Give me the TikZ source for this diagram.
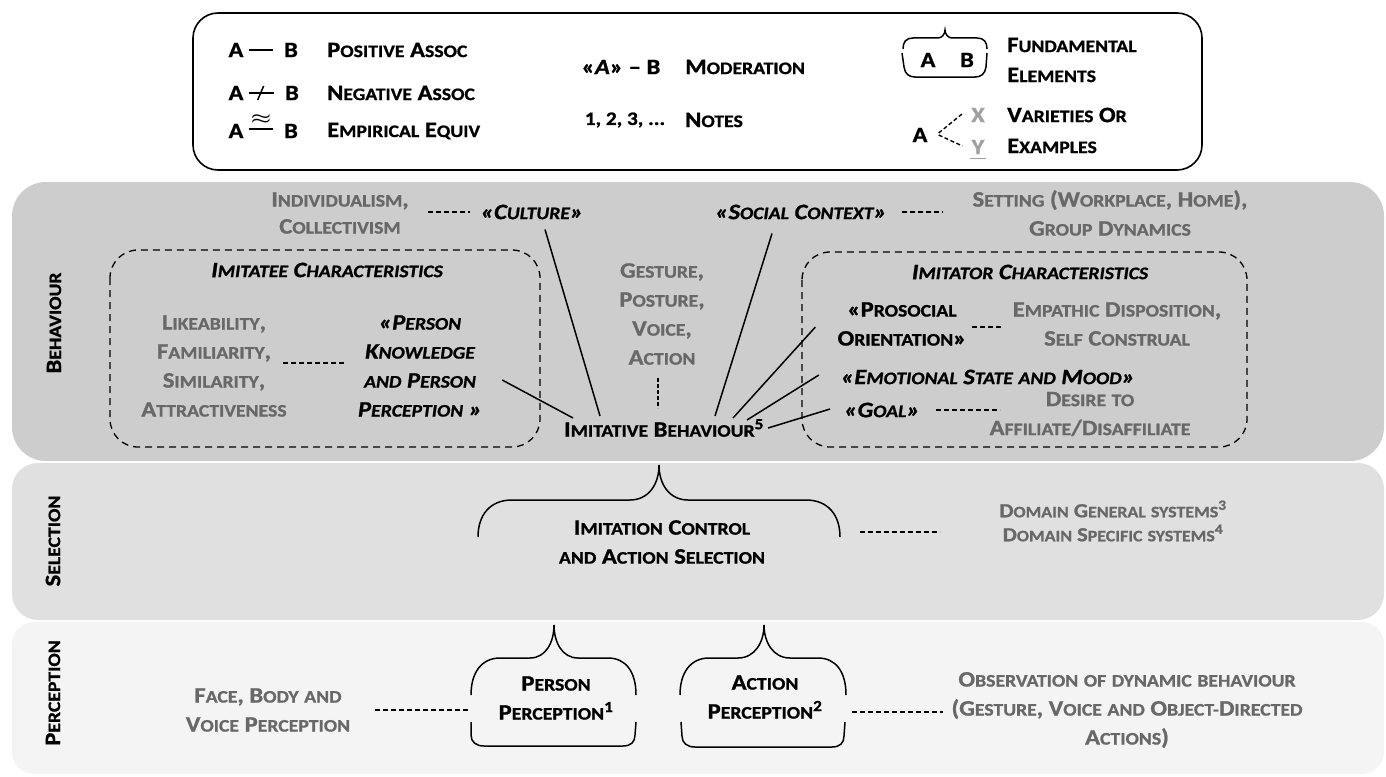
\documentclass[tikz,border=0pt]{standalone}
\usepackage{fontspec}
\setmainfont{Carlito}[FakeStretch=1.12, BoldFeatures={FakeBold=1.0}, BoldItalicFeatures={FakeBold=1.0}]
\usetikzlibrary{calc}
\definecolor{bandA}{RGB}{205,205,205}
\definecolor{bandB}{RGB}{224,224,224}
\definecolor{bandC}{RGB}{244,244,244}
\definecolor{txtgray}{RGB}{104,104,104}
\definecolor{ltgray}{RGB}{160,160,160}
\makeatletter
\def\fsc@end{}
\newcommand\fsc[1]{\fsc@w#1 \fsc@end}
\def\fsc@w#1 #2\fsc@end{\fsc@word{#1}\ifx\relax#2\relax\expandafter\@gobble\else\expandafter\@firstofone\fi{\space\fsc@w#2\fsc@end}}
\def\fsc@word#1{\@tfor\fsc@c:=#1\do{\expandafter\fsc@char\fsc@c}}
\def\fsc@small{\fontsize{\the\dimexpr0.8\dimexpr\f@size pt\relax\relax}{\f@baselineskip}\selectfont}
\def\fsc@char#1{\ifnum\lccode`#1=`#1 {\fsc@small\uppercase{#1}}\else #1\fi}
\makeatother
\tikzset{
  base/.style={inner sep=0pt, align=center, font=\bfseries\fontsize{22}{29}\selectfont},
  blk/.style={base, text=black},
  gry/.style={base, text=txtgray},
  itb/.style={base, text=black, font=\bfseries\itshape\fontsize{22}{29}\selectfont},
  vlabel/.style={base, text=black, rotate=90},
  conn/.style={line width=1.5pt},
  dconn/.style={line width=1.4pt, dash pattern=on 5pt off 3pt},
  dbox/.style={line width=1.3pt, dash pattern=on 7pt off 5pt, rounded corners=28pt},
  bracepath/.style={line width=1.5pt},
}
\begin{document}
\begin{tikzpicture}[x=1pt,y=-1pt]
\useasboundingbox (0,0) rectangle (1386,776);
% bands
\fill[bandA, rounded corners=34pt] (12,182) rectangle (1384,461);
\fill[bandB, rounded corners=26pt] (12,463) rectangle (1384,620);
\fill[bandC, rounded corners=22pt] (12,622) rectangle (1384,774);
% legend box
\draw[line width=1.6pt, rounded corners=25pt] (193,13) rectangle (1202,170);

% legend column 1
\node[blk] (la1) at (236,50) {A};
\node[blk] (lb1) at (291,50) {B};
\draw[conn] ($(la1.east)+(5,0)$) -- ($(lb1.west)+(-11,0)$);
\node[blk, anchor=west] (lt1) at (327,50) {\fsc{Positive Assoc}};
\node[blk] (la2) at (236,93) {A};
\node[blk] (lb2) at (292,93) {B};
\draw[conn] ($(la2.east)+(5,0)$) -- ($(lb2.west)+(-11,0)$);
\draw[conn] ($(la2.east)+(14,7)$) -- ($(la2.east)+(20,-7)$);
\node[blk, anchor=west] (lt2) at (327,93) {\fsc{Negative Assoc}};
\node[blk] (la3) at (236,131) {A};
\node[blk] (lb3) at (291,131) {B};
\draw[conn] ($(la3.east)+(5,-2)$) -- ($(lb3.west)+(-11,-2)$);
\node[blk] (lap) at (261,119) {\scalebox{1.1}[0.8]{\boldmath$\approx$}};
\node[blk, anchor=west] (lt3) at (327,131) {\fsc{Empirical Equiv}};
% legend column 2
\node[blk] (lmod) at (621,67) {«\textit{A}» – B};
\node[blk, anchor=west] (lt4) at (685,67) {\fsc{Moderation}};
\node[blk, font=\bfseries\fontsize{19}{29}\selectfont] (lnum) at (625,120) {1, 2, 3, ...};
\node[blk, anchor=west] (lt5) at (685,120) {\fsc{Notes}};
% legend column 3
\draw[bracepath] (903,49) .. controls (903,42) and (906,38) .. (913,38) -- (938,38) .. controls (942,38) and (945,34) .. (945,30) .. controls (945,34) and (948,38) .. (952,38) -- (977,38) .. controls (984,38) and (987,42) .. (987,49);
\draw[bracepath] (902,53) -- (904,67) .. controls (905,74) and (909,77) .. (915,77) -- (975,77) .. controls (981,77) and (985,74) .. (986,67) -- (987,53);
\node[blk] (lfa) at (928,60) {A};
\node[blk] (lfb) at (967,60) {B};
\node[blk, anchor=west] (lt6) at (1007,45) {\fsc{Fundamental}};
\node[blk, anchor=west] (lt7) at (1007,75) {\fsc{Elements}};
\node[blk] (lva) at (920,135) {A};
\node[base, text=ltgray] (lvx) at (978,115) {X};
\node[base, text=ltgray] (lvy) at (978,147) {Y};
\draw[ltgray, line width=1.5pt] ($(lvy.south west)+(-1,4)$) -- ($(lvy.south east)+(1,4)$);
\draw[dconn, dash pattern=on 4pt off 2.5pt] ($(lva.east)+(11,-2)$) -- ($(lvx.west)+(-9,-1)$);
\draw[dconn, dash pattern=on 4pt off 2.5pt] ($(lva.east)+(11,0)$) -- ($(lvy.west)+(-9,-1)$);
\node[blk, anchor=west] (lt8) at (1007,115) {\fsc{Varieties Or}};
\node[blk, anchor=west] (lt9) at (1007,146) {\fsc{Examples}};

% ---------------- Behaviour band
\node[vlabel] (lbeh) at (54,323) {\fsc{Behaviour}};
\node[gry] (indiv) at (340,213) {\fsc{Individualism,}\\[-2pt]\fsc{Collectivism}};
\node[itb] (culture) at (532,212) {\fsc{«Culture»}};
\draw[dconn] (428,212) -- (culture.west -| 470,0);
\node[itb] (social) at (801,212) {\fsc{«Social Context»}};
\node[gry] (setting) at (1110,213) {\fsc{Setting (Workplace, Home),}\\\fsc{Group Dynamics}};
\draw[dconn] (902,212) -- (943,212);

\draw[dbox] (110,250) rectangle (540,447);
\node[itb] (imitatee) at (327,270) {\fsc{Imitatee Characteristics}};
\node[gry] (like) at (214,366) {\fsc{Likeability,}\\\fsc{Familiarity,}\\\fsc{Similarity,}\\\fsc{Attractiveness}};
\node[itb] (pk) at (420,366) {\fsc{«Person}\\\fsc{Knowledge}\\\fsc{and Person}\\\fsc{Perception »}};
\draw[dconn] (283,363) -- (345,363);

\node[gry] (gest) at (662,314) {\fsc{Gesture,}\\\fsc{Posture,}\\\fsc{Voice,}\\\fsc{Action}};
\node[blk] (imit) at (664,428) {\fsc{Imitative Behaviour}\textsuperscript{5}};
\draw[dconn, dash pattern=on 4pt off 2pt] (658,378) -- (658,408);

\draw[dbox] (802,252) rectangle (1247,447);
\node[itb] (imitator) at (1030,272) {\fsc{Imitator Characteristics}};
\node[blk] (pros) at (902,324) {\fsc{«Prosocial}\\\fsc{Orientation»}};
\node[gry] (emp) at (1117,324) {\fsc{Empathic Disposition,}\\\fsc{Self Construal}};
\draw[dconn] (972,327) -- (1001,327);
\node[itb] (emo) at (988,377) {\fsc{«Emotional State and Mood»}};
\node[itb] (goal) at (882,410) {\fsc{«Goal»}};
\node[gry] (desire) at (1090,414) {\fsc{Desire to}\\\fsc{Affiliate/Disaffiliate}};
\draw[dconn] (936,410) -- (1000,410);

% solid connectors to imitative behaviour
\draw[conn] ($(pk.east)+(20,14)$) -- ($(imit.north)+(-91,-1)$);
\draw[conn] ($(culture.south)+(13,10)$) -- ($(imit.north)+(-64,-3)$);
\draw[conn] ($(social.south)+(-29,14)$) -- ($(imit.north)+(51,-3)$);
\draw[conn] ($(pros.west)+(-22,3)$) -- ($(imit.north)+(69,-1)$);
\draw[conn] ($(emo.west)+(-22,-2)$) -- ($(imit.north)+(83,1)$);
\draw[conn] ($(goal.west)+(-14,-1)$) -- ($(imit.east)+(4,0)$);

% ---------------- Selection band
\node[vlabel] (lsel) at (53,541) {\fsc{Selection}};
\draw[bracepath] (478,537) .. controls (478,515) and (490,500) .. (512,500) -- (630,500) .. controls (648,500) and (659,485) .. (659,465) .. controls (659,485) and (670,500) .. (688,500) -- (806,500) .. controls (828,500) and (840,515) .. (840,537);
\node[blk] (ctrl) at (662,542) {\fsc{Imitation Control}\\\fsc{and Action Selection}};
\node[gry, font=\bfseries\fontsize{20}{24}\selectfont] (domain) at (1113,521) {\fsc{Domain General systems}\textsuperscript{3}\\\fsc{Domain Specific systems}\textsuperscript{4}};
\draw[dconn] (860,532) -- (940,532);

% ---------------- Perception band
\node[vlabel] (lper) at (53,693) {\fsc{Perception}};
\node[gry] (face) at (268,710) {\fsc{Face, Body and}\\\fsc{Voice Perception}};
\draw[bracepath] (471,695) .. controls (471,672) and (482,658) .. (500,658) -- (530,658) .. controls (546,658) and (554,642) .. (554,625) .. controls (554,642) and (562,658) .. (578,658) -- (608,658) .. controls (626,658) and (636,672) .. (636,695);
\draw[bracepath] (471,722) -- (471,735) .. controls (471,742) and (476,746) .. (484,746) -- (623,746) .. controls (631,746) and (635,742) .. (635,735) -- (636,722);
\node[blk] (pperc) at (556,698) {\fsc{Person}\\\fsc{Perception}\textsuperscript{1}};
\draw[dconn] (375,710) -- (469,710);
\draw[bracepath] (680,695) .. controls (680,672) and (691,658) .. (709,658) -- (738,658) .. controls (755,658) and (764,642) .. (764,625) .. controls (764,642) and (773,658) .. (790,658) -- (818,658) .. controls (836,658) and (846,672) .. (846,695);
\draw[bracepath] (681,722) -- (682,736) .. controls (682,743) and (687,747) .. (695,747) -- (832,747) .. controls (840,747) and (844,743) .. (844,736) -- (845,722);
\node[blk] (aperc) at (765,697) {\fsc{Action}\\\fsc{Perception}\textsuperscript{2}};
\node[gry] (obs) at (1127,710) {\fsc{Observation of dynamic behaviour}\\\fsc{(Gesture, Voice and Object-Directed}\\\fsc{Actions)}};
\draw[dconn] (852,712) -- (943,712);
\end{tikzpicture}
\end{document}
